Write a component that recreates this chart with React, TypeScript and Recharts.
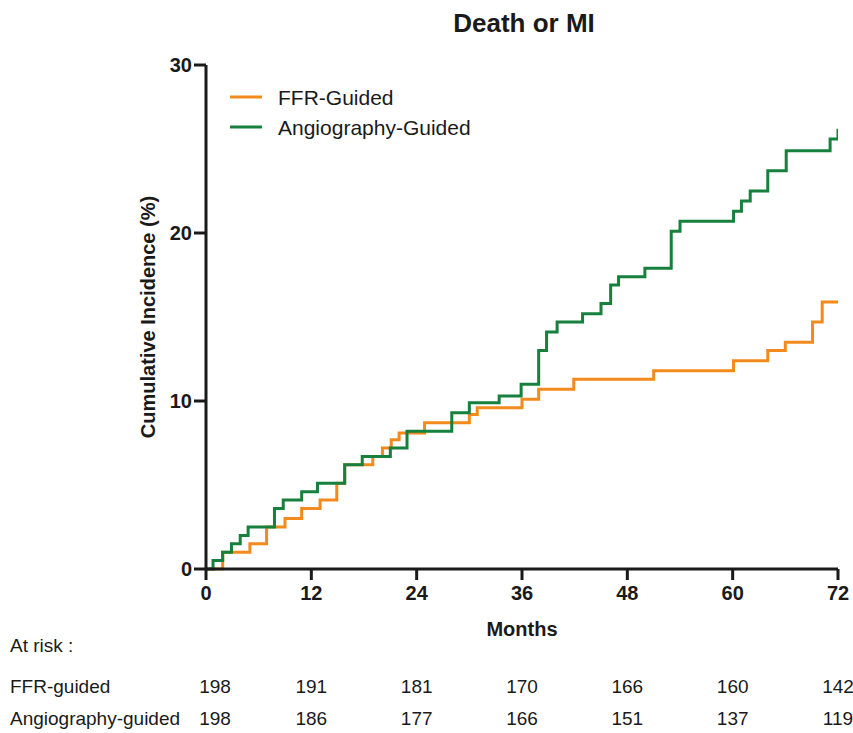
import { LineChart, Line, XAxis, YAxis } from "recharts";

// Kaplan-Meier style step data
const ffrMonths = [0, 1.9, 5.0, 6.9, 9.0, 10.9, 13.0, 14.9, 15.8, 19.0, 20.1, 21.1, 22.0, 24.9, 30.0, 30.9, 36.0, 37.9, 41.9, 51.0, 60.1, 64.0, 66.0, 69.1, 70.2, 72.0];
const ffrIncidence = [0, 1.0, 1.5, 2.5, 3.0, 3.6, 4.1, 5.1, 6.2, 6.7, 7.2, 7.7, 8.1, 8.7, 9.2, 9.6, 10.1, 10.7, 11.3, 11.8, 12.4, 13.0, 13.5, 14.7, 15.9, 15.9];

const angioMonths = [0, 0.8, 1.9, 2.9, 3.9, 4.8, 7.8, 8.8, 10.9, 12.7, 15.8, 17.8, 21.0, 22.9, 28.0, 30.0, 33.4, 35.9, 37.9, 38.8, 40.0, 42.9, 45.0, 46.1, 47.0, 50.0, 53.0, 54.0, 60.1, 61.0, 62.0, 64.0, 66.1, 71.1, 72.0];
const angioIncidence = [0, 0.5, 1.0, 1.5, 2.0, 2.5, 3.6, 4.1, 4.6, 5.1, 6.2, 6.7, 7.2, 8.2, 9.3, 9.9, 10.3, 11.0, 13.0, 14.1, 14.7, 15.2, 15.8, 16.9, 17.4, 17.9, 20.1, 20.7, 21.3, 21.9, 22.5, 23.7, 24.9, 25.6, 26.2];

const monthTicks = [0, 12, 24, 36, 48, 60, 72];
const incidenceTicks = [0, 10, 20, 30];
const ffrAtRisk = [198, 191, 181, 170, 166, 160, 142];
const angioAtRisk = [198, 186, 177, 166, 151, 137, 119];

const ORANGE = "#F28A1E";
const GREEN = "#17803C";
const INK = "#1a1a1a";

const W = 853;
const H = 733;
const MARGIN = { top: 65, right: 15, left: 146, bottom: 0 };
const Y_AXIS_W = 60;
const X_AXIS_H = 164; // axis + "Months" + at-risk table
const PLOT_L = MARGIN.left + Y_AXIS_W;
const PLOT_R = W - MARGIN.right;
const monthToX = (m: number) => PLOT_L + (m / 72) * (PLOT_R - PLOT_L);

const series = [
  { name: "FFR-Guided", color: ORANGE, data: ffrMonths.map((m, i) => ({ month: m, value: ffrIncidence[i] })) },
  { name: "Angiography-Guided", color: GREEN, data: angioMonths.map((m, i) => ({ month: m, value: angioIncidence[i] })) },
];

const riskRows = [
  { label: "FFR-guided", values: ffrAtRisk, y: 693 },
  { label: "Angiography-guided", values: angioAtRisk, y: 725 },
];

export default function App() {
  const axisStroke = { stroke: INK, strokeWidth: 3 };
  return (
    <div style={{ position: "absolute", left: 0, top: 0, width: W, height: H, background: "#fff", fontFamily: "'Liberation Sans', Arial, sans-serif" }}>
      <LineChart width={W} height={H} margin={MARGIN}>
        <XAxis
          type="number"
          dataKey="month"
          domain={[0, 72]}
          ticks={monthTicks}
          allowDataOverflow
          height={X_AXIS_H}
          axisLine={axisStroke}
          tickLine={axisStroke}
          tickSize={11}
          tickMargin={6}
          tick={{ fontSize: 20, fontWeight: "bold", fill: INK }}
        />
        <YAxis
          type="number"
          domain={[0, 30]}
          ticks={incidenceTicks}
          width={Y_AXIS_W}
          axisLine={axisStroke}
          tickLine={axisStroke}
          tickSize={12}
          tickMargin={2}
          tick={{ fontSize: 20, fontWeight: "bold", fill: INK }}
        />
        {series.map((s) => (
          <Line
            key={s.name}
            data={s.data}
            dataKey="value"
            name={s.name}
            type="stepAfter"
            stroke={s.color}
            strokeWidth={3}
            dot={false}
            isAnimationActive={false}
          />
        ))}
      </LineChart>

      {/* title, axis titles, legend and the at-risk table */}
      <svg width={W} height={H} style={{ position: "absolute", left: 0, top: 0, pointerEvents: "none" }}>
        <text x={524} y={32} textAnchor="middle" fontSize={26} fontWeight="bold" fill={INK}>Death or MI</text>
        <text transform="translate(155,317) rotate(-90)" textAnchor="middle" fontSize={20} fontWeight="bold" fill={INK}>
          Cumulative Incidence (%)
        </text>
        <text x={522} y={636} textAnchor="middle" fontSize={20} fontWeight="bold" fill={INK}>Months</text>
        {series.map((s, i) => (
          <g key={s.name}>
            <line x1={230} x2={262} y1={97 + i * 30} y2={97 + i * 30} stroke={s.color} strokeWidth={3} />
            <text x={278} y={105 + i * 30} fontSize={21} fill={INK}>{s.name}</text>
          </g>
        ))}
        <text x={10} y={652} fontSize={19} fill={INK}>At risk :</text>
        {riskRows.map((r) => (
          <g key={r.label}>
            <text x={10} y={r.y} fontSize={19} fill={INK}>{r.label}</text>
            {r.values.map((v, i) => (
              <text key={i} x={monthToX(monthTicks[i]) + (i === 0 ? 9 : 0)} y={r.y} textAnchor="middle" fontSize={19} fill={INK}>
                {v}
              </text>
            ))}
          </g>
        ))}
      </svg>
    </div>
  );
}
